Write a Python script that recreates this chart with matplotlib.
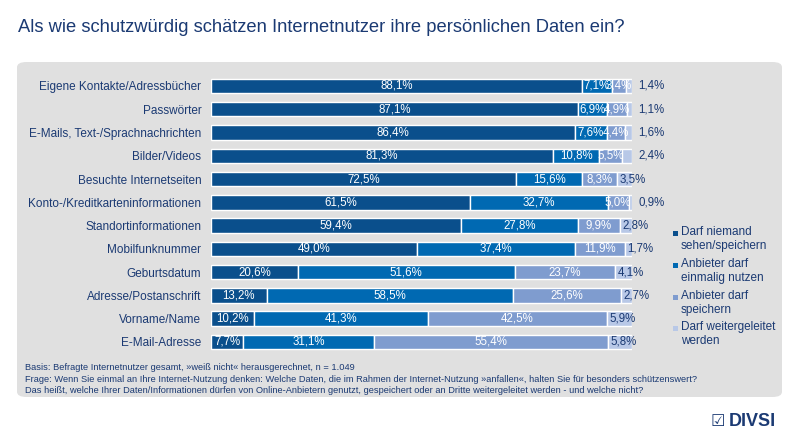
import numpy as np
import matplotlib
matplotlib.use("Agg")
import matplotlib.pyplot as plt
from matplotlib.patches import FancyBboxPatch

plt.rcParams["font.family"] = ["Liberation Sans", "DejaVu Sans"]

# -----------------------------
# Data
# -----------------------------
categories = [
    "Eigene Kontakte/Adressbücher",
    "Passwörter",
    "E-Mails, Text-/Sprachnachrichten",
    "Bilder/Videos",
    "Besuchte Internetseiten",
    "Konto-/Kreditkarteninformationen",
    "Standortinformationen",
    "Mobilfunknummer",
    "Geburtsdatum",
    "Adresse/Postanschrift",
    "Vorname/Name",
    "E-Mail-Adresse",
]
niemand = [88.1, 87.1, 86.4, 81.3, 72.5, 61.5, 59.4, 49.0, 20.6, 13.2, 10.2, 7.7]
einmalig = [7.1, 6.9, 7.6, 10.8, 15.6, 32.7, 27.8, 37.4, 51.6, 58.5, 41.3, 31.1]
speichern = [3.4, 4.9, 4.4, 5.5, 8.3, 5.0, 9.9, 11.9, 23.7, 25.6, 42.5, 55.4]
weiter = [1.4, 1.1, 1.6, 2.4, 3.5, 0.9, 2.8, 1.7, 4.1, 2.7, 5.9, 5.8]

series_names = [
    "Darf niemand\nsehen/speichern",
    "Anbieter darf\neinmalig nutzen",
    "Anbieter darf\nspeichern",
    "Darf weitergeleitet\nwerden",
]

TITLE = "Als wie schutzwürdig schätzen Internetnutzer ihre persönlichen Daten ein?"
NOTES = [
    "Basis: Befragte Internetnutzer gesamt, »weiß nicht« herausgerechnet, n = 1.049",
    "Frage: Wenn Sie einmal an Ihre Internet-Nutzung denken: Welche Daten, die im Rahmen der "
    "Internet-Nutzung »anfallen«, halten Sie für besonders schützenswert?",
    "Das heißt, welche Ihrer Daten/Informationen dürfen von Online-Anbietern genutzt, "
    "gespeichert oder an Dritte weitergeleitet werden - und welche nicht?",
]

# -----------------------------
# Style
# -----------------------------
COLORS = ["#0a4f8c", "#0069b2", "#7f9ccf", "#b8c8e7"]
NAVY = "#1b3a73"
PANEL = "#e0e0e0"


def fmt(v):
    return f"{v:.1f}%".replace(".", ",")


fig = plt.figure(figsize=(8, 4.4), dpi=100)
fig.patch.set_facecolor("white")

# gray panel behind the chart
panel = FancyBboxPatch(
    (17 / 800, 1 - 397 / 440), (782 - 17) / 800, (397 - 62) / 440,
    boxstyle="round,pad=0,rounding_size=0.012",
    transform=fig.transFigure, facecolor=PANEL, edgecolor="none", zorder=-5,
)
fig.patches.append(panel)

fig.text(18 / 800, 1 - 27 / 440, TITLE, fontsize=13.2, color=NAVY,
         ha="left", va="center")

ax = fig.add_axes([211 / 800, 1 - 353.6 / 440, 421 / 800, 279.3 / 440])
ax.set_facecolor("none")
ax.set_zorder(2)

y = np.arange(len(categories))
series = [niemand, einmalig, speichern, weiter]
left = np.zeros(len(categories))
for vals, color in zip(series, COLORS):
    vals = np.array(vals)
    ax.barh(y, vals, left=left, height=0.62, color=color,
            edgecolor="white", linewidth=1.0)
    left += vals

# value labels
for i in range(len(categories)):
    start = 0.0
    for k, vals in enumerate(series):
        v = vals[i]
        if k < 3:
            ax.text(start + v / 2, i, fmt(v), ha="center", va="center",
                    color="white", fontsize=8.3, clip_on=False)
        else:
            if speichern[i] < 6:
                xpos = 101.5
            else:
                xpos = start + 0.6
            ax.text(xpos, i, fmt(v), ha="left", va="center",
                    color=NAVY, fontsize=8.3, clip_on=False)
        start += v

ax.set_xlim(0, 100)
ax.set_ylim(len(categories) - 0.5, -0.5)
ax.set_yticks(y)
ax.set_yticklabels(categories, fontsize=8.5, color=NAVY)
ax.tick_params(axis="y", length=0, pad=7)
ax.set_xticks([])
for s in ax.spines.values():
    s.set_visible(False)

# legend
leg_tops = [233, 265, 297, 328]
for name, color, ytop in zip(series_names, COLORS, leg_tops):
    fig.patches.append(plt.Rectangle(
        (673 / 800, 1 - (ytop + 3) / 440), 5 / 800, 5 / 440,
        transform=fig.transFigure, facecolor=color, edgecolor="none"))
    fig.text(681 / 800, 1 - (ytop - 7) / 440, name, fontsize=8.5, color=NAVY,
             ha="left", va="top", linespacing=1.25)

# footnotes
for j, line in enumerate(NOTES):
    fig.text(25 / 800, 1 - (368 + 11 * j) / 440, line, fontsize=6.7,
             color=NAVY, ha="left", va="center")

# logo
fig.text(711 / 800, 1 - 421 / 440, "☑", fontsize=11.5, color=NAVY,
         ha="left", va="center", family="DejaVu Sans")
fig.text(729 / 800, 1 - 421 / 440, "DIVSI", fontsize=13, color=NAVY,
         ha="left", va="center", fontweight="bold")

fig.savefig("out.png", dpi=100)
